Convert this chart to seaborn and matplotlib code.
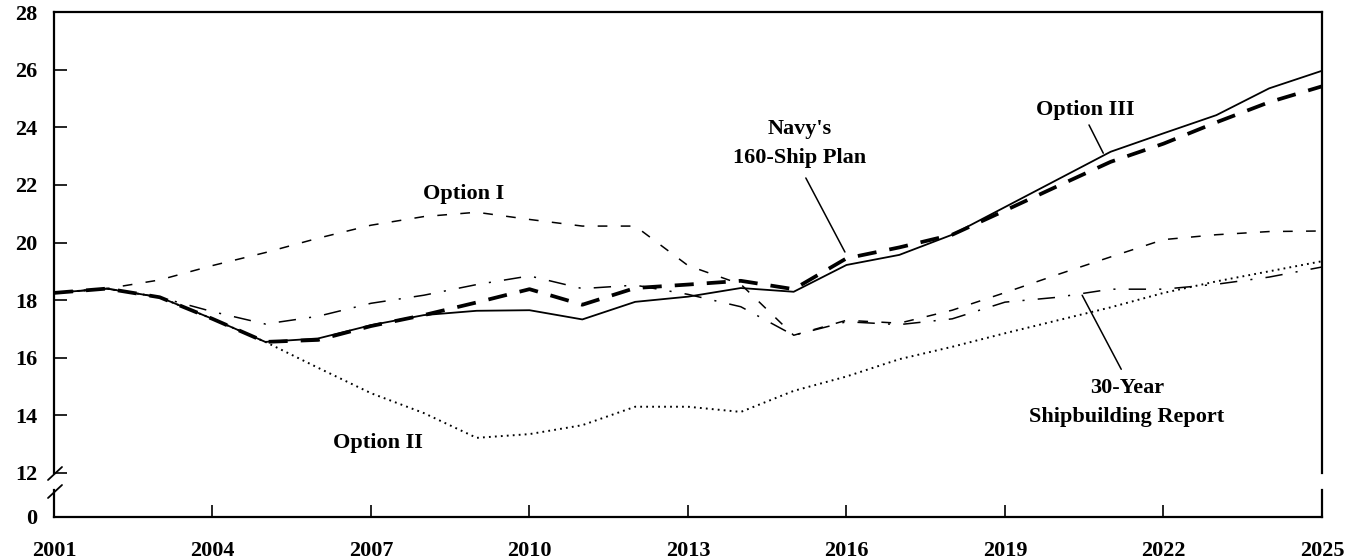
import matplotlib
matplotlib.use("Agg")
import matplotlib.pyplot as plt
from matplotlib.lines import Line2D
import seaborn as sns

# ---------------- data ----------------
years = list(range(2001, 2026))
option_iii = [18.25, 18.4, 18.1, 17.35, 16.55, 16.67, 17.13, 17.48, 17.63, 17.65,
              17.33, 17.94, 18.12, 18.42, 18.29, 19.22, 19.57, 20.27, 21.23, 22.19,
              23.15, 23.79, 24.42, 25.35, 25.96]
navy_160 = [18.25, 18.4, 18.1, 17.35, 16.55, 16.62, 17.1, 17.48, 17.92, 18.38,
            17.84, 18.42, 18.54, 18.67, 18.38, 19.45, 19.83, 20.27, 21.11, 21.96,
            22.8, 23.43, 24.17, 24.87, 25.42]
option_i = [18.25, 18.4, 18.7, 19.2, 19.65, 20.15, 20.6, 20.9, 21.05, 20.8,
            20.57, 20.57, 19.2, 18.55, 16.78, 17.3, 17.2, 17.65, 18.26, 18.89,
            19.5, 20.1, 20.27, 20.38, 20.4]
option_ii = [18.25, 18.4, 18.1, 17.35, 16.55, 15.65, 14.77, 14.08, 13.22, 13.35,
             13.66, 14.3, 14.3, 14.12, 14.85, 15.35, 15.95, 16.38, 16.85, 17.3,
             17.75, 18.25, 18.65, 19.0, 19.35]
report_30yr = [18.25, 18.4, 18.1, 17.6, 17.17, 17.44, 17.89, 18.17, 18.54, 18.84,
               18.4, 18.52, 18.2, 17.77, 16.78, 17.25, 17.15, 17.35, 17.93, 18.1,
               18.38, 18.38, 18.55, 18.8, 19.15]
y_ticks_top = [12, 14, 16, 18, 20, 22, 24, 26, 28]
x_ticks = list(range(2001, 2026, 3))

# ---------------- style ----------------
sns.set_theme(style="white")
plt.rcParams["font.family"] = ["Liberation Serif", "DejaVu Serif"]
plt.rcParams["font.weight"] = "bold"
plt.rcParams["lines.scale_dashes"] = False

W, H = 1359, 560
fig = plt.figure(figsize=(W / 100, H / 100), dpi=100)
fig.patch.set_facecolor("white")

def fx(px):
    return px / W

def fy(py):
    return 1 - py / H

left, right = 54, 1322
ax = fig.add_axes([fx(left), fy(473), fx(right - left), fy(12) - fy(473)])
axb = fig.add_axes([fx(left), fy(517), fx(right - left), fy(490) - fy(517)])

for a in (ax, axb):
    a.set_facecolor("white")
    a.grid(False)
    for s in a.spines.values():
        s.set_color("black")
        s.set_linewidth(1.6)

# lines
sns.lineplot(x=years, y=option_ii, ax=ax, color="black", lw=1.4,
             linestyle=(0, (1.3, 3.0)))
sns.lineplot(x=years, y=report_30yr, ax=ax, color="black", lw=1.1,
             linestyle=(0, (12.5, 9.5, 1.5, 9.5)))
sns.lineplot(x=years, y=option_i, ax=ax, color="black", lw=1.1,
             linestyle=(0, (7, 9.6)))
sns.lineplot(x=years, y=option_iii, ax=ax, color="black", lw=1.3,
             linestyle="-")
sns.lineplot(x=years, y=navy_160, ax=ax, color="black", lw=2.7,
             linestyle=(0, (13.7, 9.4)))

# top axes
ax.set_xlim(2001, 2025)
ax.set_ylim(12, 28)
ax.set_yticks(y_ticks_top)
ax.set_yticklabels([str(v) for v in y_ticks_top], fontsize=16, fontweight="bold")
ax.set_xticks([])
ax.spines["bottom"].set_visible(False)
ax.tick_params(axis="y", direction="in", length=9, width=1.2, pad=12,
               left=True, right=False, colors="black")
ax.set_xlabel("")
ax.set_ylabel("")

# bottom axes
axb.set_xlim(2001, 2025)
axb.set_ylim(0, 1)
axb.set_yticks([0])
axb.set_yticklabels(["0"], fontsize=16, fontweight="bold")
axb.set_xticks(x_ticks)
axb.set_xticklabels([str(v) for v in x_ticks], fontsize=16, fontweight="bold")
axb.spines["top"].set_visible(False)
axb.tick_params(axis="x", direction="in", length=8.6, width=1.2, pad=17,
                bottom=True, colors="black")
axb.tick_params(axis="y", direction="in", length=0, pad=12, left=True,
                colors="black")

# axis break slashes
for (x1, y1, x2, y2) in [(48, 480, 62, 467), (48, 498, 62, 485)]:
    fig.add_artist(Line2D([fx(x1), fx(x2)], [fy(y1), fy(y2)],
                          transform=fig.transFigure, color="black", lw=1.3))

# labels
txt = dict(fontsize=16, fontweight="bold", ha="center", va="center",
           color="black", linespacing=1.6)
ax.text(2008.76, 21.68, "Option I", **txt)
ax.text(2007.13, 13.03, "Option II", **txt)
ax.text(2020.52, 24.6, "Option III", **txt)
ax.text(2015.12, 23.45, "Navy's\n160-Ship Plan", **txt)
ax.text(2021.31, 14.44, "30-Year\nShipbuilding Report", **txt)

# leader lines
leader = dict(arrowstyle="-", color="black", lw=1.1, shrinkA=0, shrinkB=0)
for start, end in [((2020.59, 24.08), (2020.86, 23.1)),
                   ((2015.23, 22.24), (2015.97, 19.67)),
                   ((2021.2, 15.6), (2020.46, 18.17))]:
    ax.annotate("", xy=end, xytext=start, arrowprops=leader)

fig.savefig("out.png", dpi=100, facecolor="white")
